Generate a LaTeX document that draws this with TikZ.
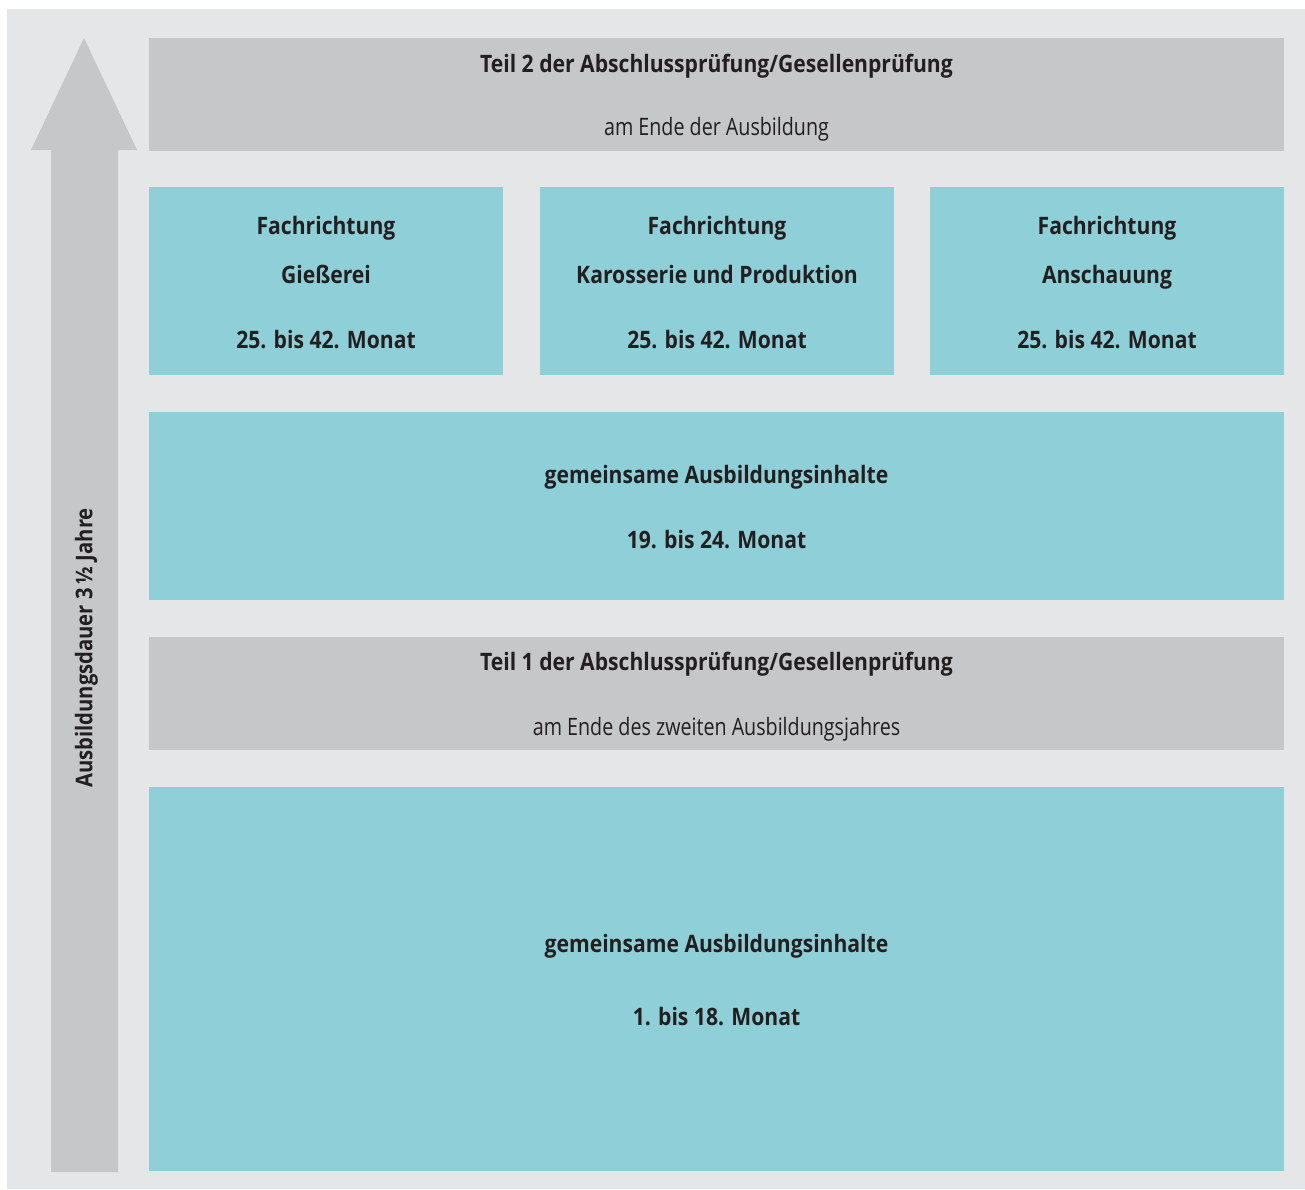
\documentclass[tikz,border=0pt]{standalone}
\usepackage{fontspec}
\setmainfont{Open Sans}[FakeStretch=0.82]
\newfontfamily\headfont{Open Sans}[FakeStretch=0.88]
\definecolor{pagebg}{HTML}{E5E6E8}
\definecolor{examgray}{HTML}{C6C7C9}
\definecolor{teal}{HTML}{8ECFD8}
\definecolor{ink}{HTML}{231F20}
\tikzset{
  panel/.style={inner sep=0pt, outer sep=0pt},
  exambox/.style={panel, fill=examgray},
  phasebox/.style={panel, fill=teal},
  boldtxt/.style={anchor=base, inner sep=0pt, text=ink, font=\headfont\fontsize{24}{28}\selectfont\bfseries},
  plaintxt/.style={anchor=base, inner sep=0pt, text=ink, font=\fontsize{24}{28}\selectfont},
}
\begin{document}
\begin{tikzpicture}[x=1pt,y=-1pt]
\useasboundingbox (0,0) rectangle (1305,1189);
\fill[white] (0,0) rectangle (1305,1189);
\fill[pagebg] (7,9) rectangle (1305,1189);

% duration arrow
\fill[examgray] (51,1172) -- (51,150) -- (31,150) -- (84,38) -- (137,150)
  -- (118,150) -- (118,1172) -- cycle;
\node[rotate=90, inner sep=0pt, text=ink, font=\headfont\fontsize{23}{27}\selectfont\bfseries]
  (duration) at (86.5,648) {Ausbildungsdauer 3\,½ Jahre};

% boxes
\path[exambox] (149,38) rectangle (1284,151) node[midway] (teil2) {};
\path[phasebox] (149,187) rectangle (503,375) node[midway] (fr1) {};
\path[phasebox] (540,187) rectangle (894,375) node[midway] (fr2) {};
\path[phasebox] (930,187) rectangle (1284,375) node[midway] (fr3) {};
\path[phasebox] (149,412) rectangle (1284,600) node[midway] (common2) {};
\path[exambox] (149,637) rectangle (1284,750) node[midway] (teil1) {};
\path[phasebox] (149,787) rectangle (1284,1171) node[midway] (common1) {};

% Teil 2
\node[boldtxt] (t2a) at (716.5,72) {Teil 2 der Abschlussprüfung/Gesellenprüfung};
\node[plaintxt] (t2b) at (716.5,135) {am Ende der Ausbildung};

% specialisations
\foreach \cx/\nm/\spec in {326/a/Gießerei, 717/b/Karosserie und Produktion, 1107/c/Anschauung}{
  \node[boldtxt] (fa\nm) at (\cx,234) {Fachrichtung};
  \node[boldtxt] (fb\nm) at (\cx,283) {\spec};
  \node[boldtxt] (fc\nm) at (\cx,348) {25. bis 42. Monat};
}

% common content, second phase
\node[boldtxt] (c2a) at (716.5,483) {gemeinsame Ausbildungsinhalte};
\node[boldtxt] (c2b) at (716.5,548) {19. bis 24. Monat};

% Teil 1
\node[boldtxt] (t1a) at (716.5,670) {Teil 1 der Abschlussprüfung/Gesellenprüfung};
\node[plaintxt] (t1b) at (716.5,735) {am Ende des zweiten Ausbildungsjahres};

% common content, first phase
\node[boldtxt] (c1a) at (716.5,952) {gemeinsame Ausbildungsinhalte};
\node[boldtxt] (c1b) at (716.5,1025) {1. bis 18. Monat};
\end{tikzpicture}
\end{document}
